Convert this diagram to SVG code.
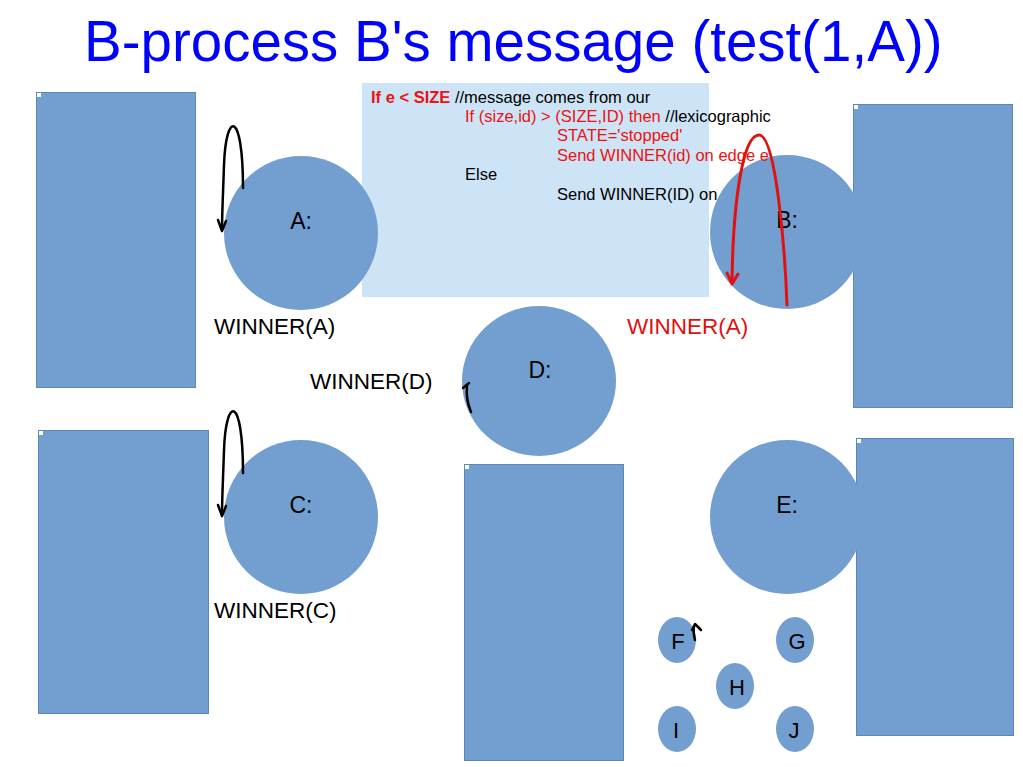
<svg xmlns="http://www.w3.org/2000/svg" width="1023" height="767" viewBox="0 0 1023 767">
<style>
.panel{fill:#729fcf;stroke:#5b87b9;stroke-width:1}
.tag{fill:#ffffff}
.node{fill:#729fcf}
.lbl{font-family:"Liberation Sans",Arial,sans-serif;font-size:23px;fill:#000;text-anchor:middle}
.slbl{font-family:"Liberation Sans",Arial,sans-serif;font-size:22px;fill:#000;text-anchor:middle}
.msg{font-family:"Liberation Sans",Arial,sans-serif;font-size:22.5px}
.code{font-family:"Liberation Sans",Arial,sans-serif;font-size:16.5px;fill:#000}
.red{fill:#ee1111}
.blk{fill:none;stroke:#000;stroke-width:2.5;stroke-linecap:round;stroke-linejoin:round}
.rl{fill:none;stroke:#e31010;stroke-width:3;stroke-linecap:round;stroke-linejoin:round}
</style>
<rect width="1023" height="767" fill="#ffffff"/>
<text x="84" y="61" font-family="Liberation Sans, Arial, sans-serif" font-size="56.5" fill="#0000ff">B-process B's message (test(1,A))</text>

<g id="panels">
<rect class="panel" x="36.5" y="92.5" width="159" height="295"/>
<rect class="tag" x="37" y="93" width="4" height="4"/>
<rect class="panel" x="853.5" y="104.5" width="159" height="303"/>
<rect class="tag" x="854" y="105" width="4" height="4"/>
<rect class="panel" x="38.5" y="430.5" width="170" height="283"/>
<rect class="tag" x="39" y="431" width="4" height="4"/>
<rect class="panel" x="464.5" y="464.5" width="159" height="296"/>
<rect class="tag" x="465" y="465" width="4" height="4"/>
<rect class="panel" x="856.5" y="438.5" width="157" height="297"/>
<rect class="tag" x="857" y="439" width="4" height="4"/>
</g>

<g id="codebox">
<rect x="362" y="83" width="347" height="214" fill="#cce4f5"/>
</g>

<g id="node-A"><circle class="node" cx="301" cy="233" r="77"/><text class="lbl" x="301" y="229">A:</text></g>
<g id="node-B"><circle class="node" cx="787" cy="232" r="77"/><text class="lbl" x="787" y="228">B:</text></g>
<g id="node-C"><circle class="node" cx="301" cy="517" r="77"/><text class="lbl" x="301" y="513">C:</text></g>
<g id="node-D"><ellipse class="node" cx="539" cy="381" rx="77" ry="75"/><text class="lbl" x="540" y="378">D:</text></g>
<g id="node-E"><circle class="node" cx="787" cy="517" r="77"/><text class="lbl" x="787" y="513">E:</text></g>
<g id="node-F"><ellipse class="node" cx="677" cy="640" rx="19" ry="23"/><text class="slbl" x="678" y="649">F</text></g>
<g id="node-G"><ellipse class="node" cx="795" cy="640" rx="19" ry="23"/><text class="slbl" x="797" y="649">G</text></g>
<g id="node-H"><ellipse class="node" cx="735" cy="686" rx="19" ry="23"/><text class="slbl" x="737" y="695">H</text></g>
<g id="node-I"><ellipse class="node" cx="677" cy="729" rx="19" ry="23"/><text class="slbl" x="676" y="738">I</text></g>
<g id="node-J"><ellipse class="node" cx="795" cy="729" rx="19" ry="23"/><text class="slbl" x="794" y="738">J</text></g>

<g id="code-text">
<text class="code" x="371" y="103"><tspan class="red" font-weight="bold">If e &lt; SIZE</tspan> //message comes from our</text>
<text class="code" x="465" y="122"><tspan class="red">If (size,id) &gt; (SIZE,ID) then</tspan> //lexicographic</text>
<text class="code red" x="557" y="141">STATE='stopped'</text>
<text class="code red" x="557" y="161">Send WINNER(id) on edge e</text>
<text class="code" x="465" y="180">Else</text>
<text class="code" x="557" y="200">Send WINNER(ID) on</text>
</g>

<g id="messages">
<text class="msg" x="214" y="334" fill="#000">WINNER(A)</text>
<text class="msg" x="627" y="334" fill="#e01010">WINNER(A)</text>
<text class="msg" x="310" y="389" fill="#000">WINNER(D)</text>
<text class="msg" x="214" y="618" fill="#000">WINNER(C)</text>
</g>

<g id="connectors">
<path class="blk" d="M243,188 C243,110 226,110 224,165 C223,195 222,215 222,230"/>
<path class="blk" d="M218,220 L222,231 L226,221"/>
<path class="blk" d="M243,473 C243,395 226,395 224,450 C223,480 222,500 222,515"/>
<path class="blk" d="M218,505 L222,516 L226,506"/>
<path class="rl" d="M787,305 C785,250 776,135 759,135 C743,135 733,200 732,283"/>
<path class="rl" d="M727,273 L732,284 L738,274"/>
<path class="blk" d="M463,388 L469,383 M467,386 C466,396 468,405 471,412"/>
<path class="blk" d="M692,630 L695,624 L701,630 M694,626 C693,632 694,636 695,640"/>
</g>
</svg>
